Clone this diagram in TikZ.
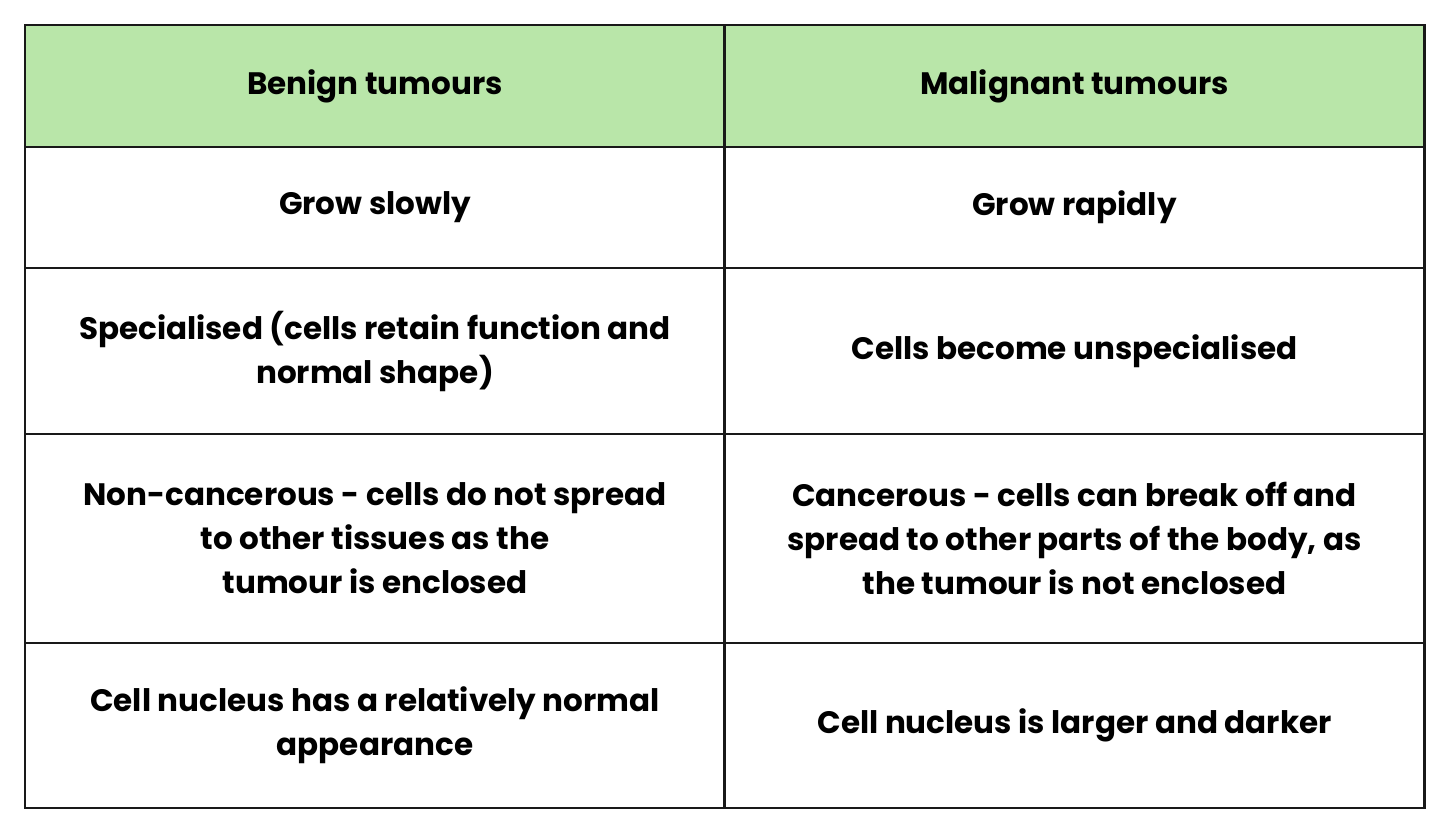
\documentclass[tikz,border=0pt]{standalone}
\usepackage{fontspec}
\setmainfont{Poppins}
\definecolor{headgreen}{HTML}{B9E6A9}
\begin{document}
\begin{tikzpicture}[x=1pt,y=-1pt,
    cell/.style={draw=black!90,line width=1.4pt,minimum width=350pt,
      align=center,inner sep=0pt,
      font=\bfseries\fontsize{15.5}{22}\selectfont},
    head/.style={cell,fill=headgreen},
  ]
  \useasboundingbox (0,0) rectangle (720,419);
  % header row
  \node[head,minimum height=61pt] (h1) at (187.5,43.0) {Benign tumours};
  \node[head,minimum height=61pt] (h2) at (537.25,43.0) {Malignant tumours};
  % body rows
  \node[cell,minimum height=60.5pt] (a1) at (187.5,103.75) {Grow slowly};
  \node[cell,minimum height=60.5pt] (a2) at (537.25,103.75) {Grow rapidly};
  \node[cell,minimum height=83pt] (b1) at (187.5,175.5) {Specialised (cells retain function and\\ normal shape)};
  \node[cell,minimum height=83pt] (b2) at (537.25,175.5) {Cells become unspecialised};
  \node[cell,minimum height=104.5pt] (c1) at (187.5,269.25) {Non-cancerous - cells do not spread\\ to other tissues as the\\ tumour is enclosed};
  \node[cell,minimum height=104.5pt] (c2) at (537.25,269.25) {Cancerous - cells can break off and\\ spread to other parts of the body, as\\ the tumour is not enclosed};
  \node[cell,minimum height=82.5pt] (d1) at (187.5,362.75) {Cell nucleus has a relatively normal\\ appearance};
  \node[cell,minimum height=82.5pt] (d2) at (537.25,362.75) {Cell nucleus is larger and darker};
\end{tikzpicture}
\end{document}
